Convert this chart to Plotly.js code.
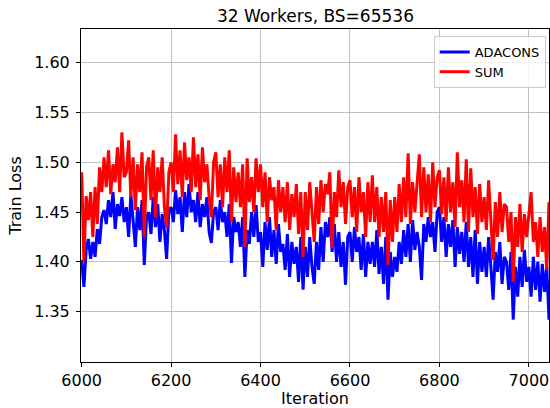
<!DOCTYPE html>
<html>
<head>
<meta charset="utf-8">
<script src="https://cdn.plot.ly/plotly-3.0.1.min.js"></script>
<style>html,body{margin:0;padding:0;background:#fff;}#chart{width:550px;height:408px;}</style>
</head>
<body>
<div id="chart"></div>
<script>
const ITER_START = 6000;
const ITER_STEP = 5;
const seriesNames = ["ADACONS", "SUM"];
const titleText = "32 Workers, BS=65536";
const xTicks = [6000, 6200, 6400, 6600, 6800, 7000];
const yTicks = [1.35, 1.40, 1.45, 1.50, 1.55, 1.60];
const yTickLabels = ["1.35", "1.40", "1.45", "1.50", "1.55", "1.60"];

const adacons = [
  1.402, 1.375, 1.412, 1.423, 1.403, 1.420, 1.405, 1.433, 1.418, 1.445,
  1.452, 1.438, 1.462, 1.445, 1.470, 1.433, 1.458, 1.446, 1.465, 1.440,
  1.455, 1.425, 1.468, 1.440, 1.415, 1.455, 1.432, 1.462, 1.397, 1.445,
  1.450, 1.428, 1.465, 1.435, 1.458, 1.420, 1.448, 1.432, 1.403, 1.452,
  1.455, 1.440, 1.472, 1.448, 1.465, 1.430, 1.470, 1.445, 1.478, 1.450,
  1.462, 1.440, 1.470, 1.435, 1.458, 1.445, 1.465, 1.430, 1.419, 1.450,
  1.455, 1.432, 1.462, 1.440, 1.450, 1.425, 1.458, 1.399, 1.445, 1.430,
  1.440, 1.415, 1.445, 1.385, 1.432, 1.418, 1.450, 1.425, 1.457, 1.420,
  1.430, 1.395, 1.440, 1.412, 1.445, 1.405, 1.432, 1.398, 1.438, 1.410,
  1.418, 1.392, 1.428, 1.385, 1.420, 1.398, 1.415, 1.380, 1.425, 1.372,
  1.415, 1.385, 1.425, 1.395, 1.378, 1.420, 1.392, 1.435, 1.400, 1.440,
  1.425, 1.445, 1.410, 1.438, 1.400, 1.430, 1.395, 1.420, 1.377, 1.425,
  1.430, 1.400, 1.435, 1.410, 1.425, 1.392, 1.428, 1.385, 1.420, 1.398,
  1.420, 1.395, 1.432, 1.388, 1.415, 1.378, 1.425, 1.362, 1.410, 1.385,
  1.405, 1.390, 1.420, 1.398, 1.432, 1.405, 1.438, 1.400, 1.442, 1.412,
  1.430, 1.415, 1.382, 1.438, 1.420, 1.445, 1.425, 1.440, 1.410, 1.450,
  1.455, 1.420, 1.445, 1.405, 1.438, 1.415, 1.442, 1.395, 1.435, 1.408,
  1.430, 1.400, 1.440, 1.395, 1.425, 1.385, 1.432, 1.378, 1.420, 1.390,
  1.415, 1.385, 1.425, 1.395, 1.362, 1.410, 1.390, 1.420, 1.378, 1.405,
  1.400, 1.372, 1.410, 1.342, 1.395, 1.365, 1.405, 1.375, 1.412, 1.380,
  1.395, 1.365, 1.405, 1.372, 1.400, 1.360, 1.398, 1.370, 1.395, 1.342
];

const sum = [
  1.490, 1.400, 1.466, 1.442, 1.470, 1.425, 1.475, 1.438, 1.495, 1.470,
  1.505, 1.475, 1.512, 1.468, 1.498, 1.480, 1.515, 1.470, 1.530, 1.485,
  1.490, 1.522, 1.465, 1.505, 1.452, 1.498, 1.470, 1.510, 1.425, 1.495,
  1.505, 1.462, 1.512, 1.445, 1.495, 1.470, 1.505, 1.455, 1.434, 1.490,
  1.500, 1.470, 1.528, 1.478, 1.512, 1.465, 1.520, 1.482, 1.505, 1.470,
  1.525, 1.475, 1.508, 1.462, 1.515, 1.480, 1.498, 1.465, 1.445, 1.500,
  1.510, 1.465, 1.498, 1.455, 1.505, 1.470, 1.512, 1.440, 1.495, 1.460,
  1.490, 1.455, 1.498, 1.415, 1.504, 1.460, 1.485, 1.450, 1.504, 1.470,
  1.498, 1.455, 1.490, 1.440, 1.485, 1.462, 1.475, 1.432, 1.482, 1.450,
  1.475, 1.440, 1.480, 1.432, 1.468, 1.445, 1.478, 1.428, 1.470, 1.405,
  1.470, 1.432, 1.480, 1.445, 1.420, 1.475, 1.438, 1.482, 1.450, 1.478,
  1.468, 1.490, 1.414, 1.470, 1.445, 1.492, 1.455, 1.480, 1.438, 1.475,
  1.482, 1.445, 1.475, 1.430, 1.485, 1.450, 1.470, 1.425, 1.480, 1.440,
  1.487, 1.440, 1.475, 1.425, 1.465, 1.430, 1.470, 1.397, 1.462, 1.420,
  1.465, 1.430, 1.478, 1.440, 1.485, 1.445, 1.509, 1.438, 1.480, 1.450,
  1.475, 1.508, 1.445, 1.495, 1.450, 1.488, 1.440, 1.500, 1.455, 1.485,
  1.492, 1.448, 1.485, 1.440, 1.495, 1.450, 1.480, 1.435, 1.510, 1.455,
  1.482, 1.440, 1.503, 1.430, 1.494, 1.445, 1.475, 1.428, 1.478, 1.440,
  1.465, 1.432, 1.482, 1.440, 1.402, 1.460, 1.425, 1.470, 1.430, 1.458,
  1.455, 1.420, 1.450, 1.380, 1.445, 1.415, 1.458, 1.410, 1.448, 1.425,
  1.445, 1.470, 1.420, 1.440, 1.405, 1.445, 1.410, 1.435, 1.392, 1.460
];

const iterations = adacons.map((_, i) => ITER_START + ITER_STEP * i);

const font = "DejaVu Sans, sans-serif";
const traces = [
  {x: iterations, y: adacons, name: seriesNames[0], type: "scatter", mode: "lines",
   line: {color: "#0000ff", width: 3}},
  {x: iterations, y: sum, name: seriesNames[1], type: "scatter", mode: "lines",
   line: {color: "#ff0000", width: 3}}
];

const axisCommon = {
  showline: true, mirror: true, linecolor: "#000", linewidth: 1,
  showgrid: true, gridcolor: "#b0b0b0", gridwidth: 0.8,
  ticks: "outside", ticklen: 4, tickwidth: 1, tickcolor: "#000",
  zeroline: false, tickfont: {family: font, size: 16, color: "#000"}
};

const layout = {
  width: 550, height: 408,
  margin: {l: 81, r: 1, t: 29, b: 46},
  paper_bgcolor: "#fff", plot_bgcolor: "#fff",
  title: {text: titleText, font: {family: font, size: 17, color: "#000"},
          x: 0.5735, xanchor: "center", y: 0.96, yanchor: "middle"},
  xaxis: Object.assign({}, axisCommon, {
    range: [5998.5, 7045], tickvals: xTicks, ticktext: xTicks.map(String),
    title: {text: "Iteration", font: {family: font, size: 16, color: "#000"}, standoff: 4}
  }),
  yaxis: Object.assign({}, axisCommon, {
    range: [1.2995, 1.6338], tickvals: yTicks, ticktext: yTickLabels,
    ticklabelstandoff: 3,
    title: {text: "Train Loss", font: {family: font, size: 16, color: "#000"}, standoff: 8}
  }),
  showlegend: true,
  legend: {x: 0.993, xanchor: "right", y: 0.979, yanchor: "top",
           bgcolor: "rgba(255,255,255,0.8)", bordercolor: "#cccccc", borderwidth: 1,
           font: {family: font, size: 13, color: "#000"}, tracegroupgap: 0}
};

Plotly.newPlot("chart", traces, layout, {displayModeBar: false, staticPlot: true});
</script>
</body>
</html>
